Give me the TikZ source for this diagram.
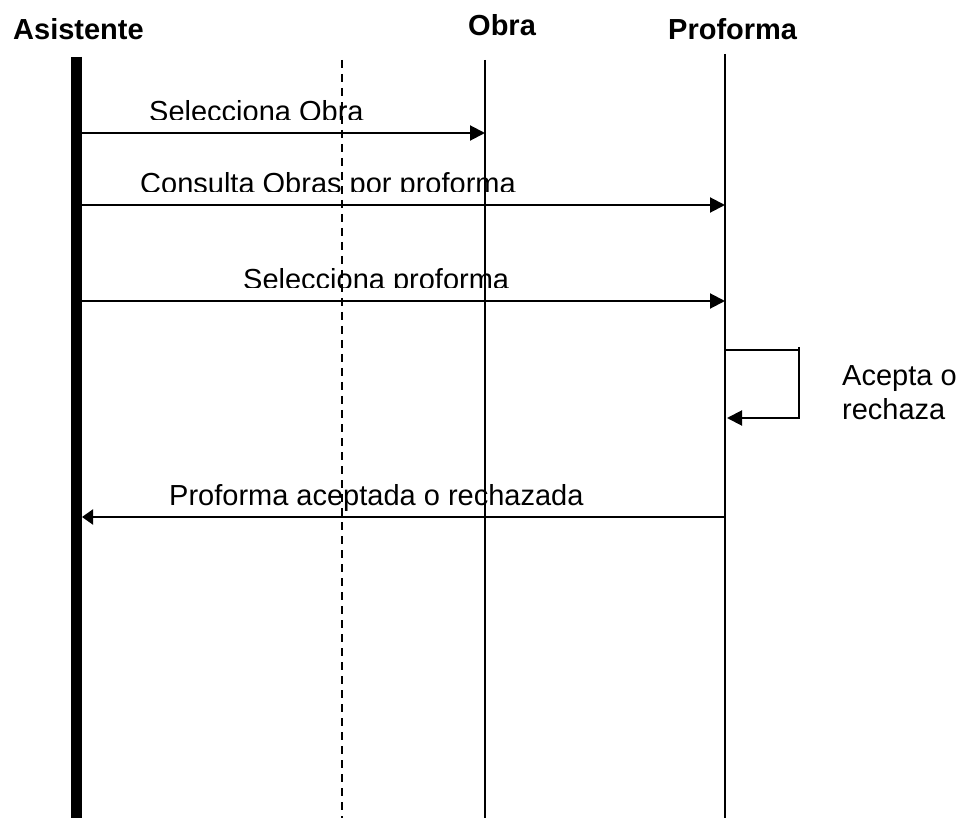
\documentclass[tikz,border=0pt]{standalone}
\usepackage{fontspec}
\setmainfont{Liberation Sans}
\usepackage{tikz}
\usetikzlibrary{arrows.meta,positioning}

\begin{document}
\begin{tikzpicture}[x=1pt, y=-1pt,
    title/.style={font=\fontsize{29}{34}\selectfont\bfseries, inner sep=0pt, anchor=base west},
    msglabel/.style={font=\fontsize{29}{34}\selectfont, inner sep=0pt, anchor=base west},
    lifeline/.style={line width=1.5pt},
    msg/.style={line width=2pt, -{Triangle[length=15pt, width=15pt]}}]

    \useasboundingbox (0,0) rectangle (959,818);

    % Titles
    \node[title] (asis) at (13,40) {Asistente};
    \node[title] (obra) at (468,36) {Obra};
    \node[title] (prof) at (668,40) {Proforma};

    % Lifelines
    \coordinate (asistop) at (76.5,57);
    \coordinate (asisbot) at (76.5,818);
    \coordinate (dashtop) at (342,60);
    \coordinate (dashbot) at (342,818);
    \coordinate (obratop) at (485,60);
    \coordinate (obrabot) at (485,818);
    \coordinate (proftop) at (725,54);
    \coordinate (profbot) at (725,818);

    \draw[line width=11pt] (asistop) -- (asisbot);
    \draw[line width=1.3pt, dash pattern=on 8pt off 6pt] (dashtop) -- (dashbot);
    \draw[lifeline] (obratop) -- (obrabot);
    \draw[lifeline] (proftop) -- (profbot);

    % Messages
    \coordinate (a1) at (82,133);
    \coordinate (o1) at (485,133);
    \coordinate (a2) at (82,205);
    \coordinate (p2) at (725,205);
    \coordinate (a3) at (82,301);
    \coordinate (p3) at (725,301);
    \coordinate (a5) at (82,517);
    \coordinate (p5) at (725,517);

    \draw[msg] (a1) -- (o1);
    \draw[msg] (a2) -- (p2);
    \draw[msg] (a3) -- (p3);
    \draw[line width=2pt, -{Triangle[length=11pt, width=15pt]}] (p5) -- (a5);

    % Self message
    \coordinate (p4) at (725,350);
    \coordinate (s1) at (799,350);
    \coordinate (s1top) at (799,347);
    \coordinate (s2bot) at (799,419);
    \coordinate (s2) at (799,418);
    \coordinate (p4b) at (727,418);

    \draw[line width=2pt] (p4) -- (s1);
    \draw[line width=1.3pt] (s1top) -- (s2bot);
    \draw[msg] (s2) -- (p4b);

    % Labels (cut at the bottom)
    \begin{scope}
        \clip (0,0) rectangle (959,119.5);
        \node[msglabel] (m1) at (149,121.5) {Selecciona Obra};
    \end{scope}
    \begin{scope}
        \clip (0,0) rectangle (959,192);
        \node[msglabel] (m2) at (140,194) {Consulta Obras por proforma};
    \end{scope}
    \begin{scope}
        \clip (0,0) rectangle (959,288);
        \node[msglabel] (m3) at (243,290) {Selecciona proforma};
    \end{scope}

    \node[msglabel] (m4a) at (842,385) {Acepta o};
    \node[msglabel] (m4b) at (842,419) {rechaza};
    \node[msglabel] (m5) at (169,505) {Proforma aceptada o rechazada};

\end{tikzpicture}
\end{document}
